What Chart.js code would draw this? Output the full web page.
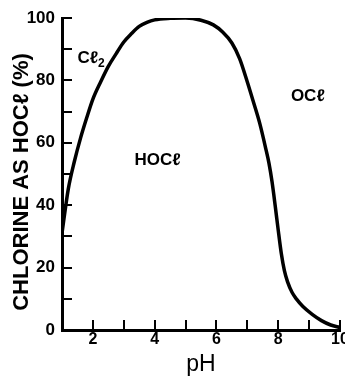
<!DOCTYPE html>
<html>
<head>
<meta charset="utf-8">
<script src="https://cdn.jsdelivr.net/npm/chart.js@4"></script>
<style>
  html, body { margin: 0; padding: 0; background: #fff; overflow: hidden; }
  #wrap { width: 345px; height: 378px; overflow: hidden; }
</style>
</head>
<body>
<div id="wrap"><canvas id="myChart" width="362" height="378"></canvas></div>
<script>
// fraction of free chlorine present as HOCl, against pH
const ph = [1.0, 1.2, 1.4, 1.6, 1.8, 2.0, 2.25, 2.5, 2.75, 3.0, 3.25, 3.5, 3.75, 4.0, 4.5, 5.0, 5.5, 5.9, 6.2, 6.5, 6.75, 7.0, 7.2, 7.4, 7.6, 7.7, 7.8, 7.9, 8.0, 8.1, 8.2, 8.3, 8.45, 8.6, 8.8, 9.1, 9.4, 9.7, 10.0]
const hoclPercent = [31, 45, 54, 61.5, 68, 74, 79.5, 84.5, 88.5, 92.3, 95, 97.3, 98.6, 99.4, 99.9, 100, 99.3, 97.8, 95.5, 92, 87, 79.5, 73, 66.3, 58, 53.5, 47.5, 40, 32, 24.5, 19, 15.5, 12, 9.8, 7.5, 5, 3, 1.6, 0.8]

const yTickLabels = [0, 20, 40, 60, 80, 100]
const xTickLabels = [2, 4, 6, 8, 10]
const yTitle = 'CHLORINE AS HOCℓ (%)'

// species written on the plot, with where they sit (pH, %)
const speciesNames = ['Cℓ', 'HOCℓ', 'OCℓ']
const speciesSub = ['2', '', '']
const speciesAt = [[1.5, 87], [3.35, 54.5], [8.41, 75]]

const ctx = document.getElementById('myChart')
Chart.defaults.font.family = '"Liberation Sans", Arial, sans-serif'
Chart.defaults.color = '#000'

// tick marks point into the plot, so draw them here instead of the grid
const insideTicks = {
  id: 'insideTicks',
  afterDatasetsDraw(chart) {
    const { ctx, chartArea, scales: { x, y } } = chart
    ctx.save()
    ctx.strokeStyle = '#000'
    ctx.lineWidth = 2
    ctx.beginPath()
    y.ticks.forEach(t => {
      if (t.value === 0) return
      const py = Math.round(y.getPixelForValue(t.value))
      ctx.moveTo(chartArea.left, py)
      ctx.lineTo(chartArea.left + 10, py)
    })
    x.ticks.forEach(t => {
      if (t.value === 1) return
      const px = Math.round(x.getPixelForValue(t.value))
      ctx.moveTo(px, chartArea.bottom)
      ctx.lineTo(px, chartArea.bottom - 10)
    })
    ctx.stroke()

    ctx.fillStyle = '#000'
    ctx.textBaseline = 'middle'
    ctx.textAlign = 'left'
    speciesNames.forEach((name, i) => {
      const px = x.getPixelForValue(speciesAt[i][0])
      const py = y.getPixelForValue(speciesAt[i][1])
      ctx.font = 'bold 17px "Liberation Sans", Arial, sans-serif'
      ctx.fillText(name, px, py)
      if (speciesSub[i]) {
        const w = ctx.measureText(name).width
        ctx.font = 'bold 12px "Liberation Sans", Arial, sans-serif'
        ctx.fillText(speciesSub[i], px + w, py + 5)
      }
    })

    // rotated y-axis title, a little below the middle of the axis
    ctx.save()
    ctx.translate(22, (chartArea.top + chartArea.bottom) / 2 + 8)
    ctx.rotate(-Math.PI / 2)
    ctx.textAlign = 'center'
    ctx.font = 'bold 22px "Liberation Sans", Arial, sans-serif'
    ctx.fillText(yTitle, 0, 0)
    ctx.restore()

    ctx.restore()
  }
}

const myChart = new Chart(ctx, {
  type: 'line',
  data: {
    datasets: [{
      data: ph.map((p, i) => ({ x: p, y: hoclPercent[i] })),
      borderColor: '#000',
      borderWidth: 3.5,
      pointRadius: 0,
      fill: false,
      cubicInterpolationMode: 'monotone'
    }]
  },
  options: {
    responsive: false,
    animation: false,
    layout: { padding: { top: 18, right: 22, bottom: 0, left: 0 } },
    plugins: { legend: { display: false }, tooltip: { enabled: false } },
    scales: {
      x: {
        type: 'linear',
        min: 1,
        max: 10,
        grid: { display: false, drawTicks: false },
        border: { display: true, color: '#000', width: 3 },
        ticks: {
          stepSize: 1,
          autoSkip: false,
          maxRotation: 0,
          padding: 0,
          font: { size: 16, weight: 'bold' },
          callback: v => xTickLabels.includes(v) ? v : ''
        },
        title: {
          display: true,
          text: 'pH',
          font: { size: 23 },
          padding: { top: 0, bottom: 0 }
        },
        afterFit: scale => { scale.height = 48 }
      },
      y: {
        min: 0,
        max: 100,
        grid: { display: false, drawTicks: false },
        border: { display: true, color: '#000', width: 3 },
        ticks: {
          stepSize: 10,
          autoSkip: false,
          padding: 7,
          font: { size: 17, weight: 'bold' },
          callback: v => yTickLabels.includes(v) ? v : ''
        },
        afterFit: scale => { scale.width = 62 }
      }
    }
  },
  plugins: [insideTicks]
})
</script>
</body>
</html>
